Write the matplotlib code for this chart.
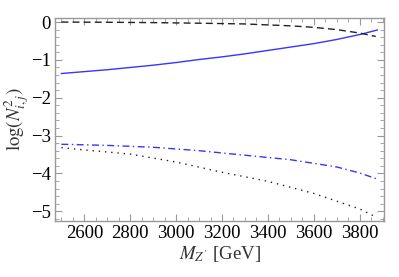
import matplotlib
matplotlib.use("Agg")
import matplotlib.pyplot as plt
from matplotlib.ticker import MultipleLocator

plt.rcParams['font.family'] = ['Liberation Serif', 'DejaVu Serif']
plt.rcParams['mathtext.fontset'] = 'stix'

# values
mass_solid = [2500, 2600, 2700, 2800, 2900, 3000, 3100, 3200, 3300, 3400,
              3500, 3600, 3700, 3800, 3877]
solid_vals = [-1.36, -1.31, -1.26, -1.20, -1.14, -1.07, -0.99, -0.92, -0.84,
              -0.75, -0.66, -0.57, -0.46, -0.33, -0.21]

mass_dashed = [2500, 2700, 2900, 3100, 3300, 3500, 3600, 3700, 3800, 3870]
dashed_vals = [0.00, -0.005, -0.015, -0.03, -0.05, -0.10, -0.14, -0.20, -0.29, -0.38]

mass_dashdot = [2500, 2700, 2900, 3100, 3300, 3500, 3700, 3800, 3877]
dashdot_vals = [-3.23, -3.26, -3.31, -3.40, -3.52, -3.64, -3.83, -3.99, -4.15]

mass_dotted = [2500, 2600, 2800, 3000, 3200, 3400, 3600, 3800, 3877]
dotted_vals = [-3.32, -3.38, -3.49, -3.70, -3.97, -4.21, -4.53, -4.94, -5.17]

xticks = [2600, 2800, 3000, 3200, 3400, 3600, 3800]
yticks = [0, -1, -2, -3, -4, -5]

BLUE = '#3535ff'
FRAME = '#999999'

fig = plt.figure(figsize=(3.99, 2.77), dpi=100)
ax = fig.add_axes([0.1378, 0.202, 0.8252, 0.732])

ax.plot(mass_solid, solid_vals, color=BLUE, lw=1.0)
ax.plot(mass_dashed, dashed_vals, color='#222222', lw=1.0, dashes=(5, 3))
ax.plot(mass_dashdot, dashdot_vals, color=BLUE, lw=1.0, dashes=(5, 2.5, 1, 2.5))
ax.plot(mass_dotted, dotted_vals, color='#222222', lw=1.0, dashes=(1, 3.5))

ax.set_xlim(2472, 3907)
ax.set_ylim(-5.26, 0.1)
ax.set_xticks(xticks)
ax.set_yticks(yticks)
ax.xaxis.set_minor_locator(MultipleLocator(50))
ax.yaxis.set_minor_locator(MultipleLocator(0.2))

for s in ax.spines.values():
    s.set_color(FRAME)
    s.set_linewidth(1.0)

ax.tick_params(which='both', direction='in', top=True, right=True, color=FRAME)
ax.tick_params(which='major', length=5, width=0.8, labelsize=13.5, pad=3)
ax.tick_params(which='minor', length=3, width=0.6)

ax.set_xlabel(r"$M_{Z^{\prime}}$ [GeV]", fontsize=13.5, color='#333333', labelpad=1)
ax.set_ylabel(r"$\log(N^2_{i,j})$", fontsize=13.5, color='#333333', labelpad=0)

fig.savefig("out.png", dpi=100)
